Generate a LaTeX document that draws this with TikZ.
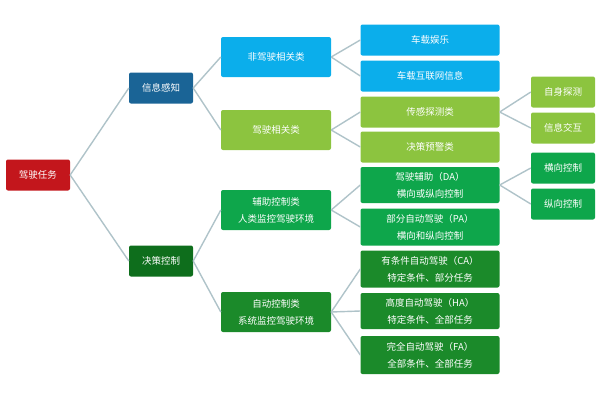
\documentclass[tikz,border=0pt]{standalone}
\usepackage{fontspec}
\setmainfont{Noto Sans CJK SC}
\definecolor{taskred}{HTML}{C3161C}
\definecolor{darkblue}{HTML}{1A6496}
\definecolor{darkgreen}{HTML}{0E6E1C}
\definecolor{skyblue}{HTML}{0BAEEB}
\definecolor{limegreen}{HTML}{8CC43F}
\definecolor{midgreen}{HTML}{0EA64B}
\definecolor{deepgreen}{HTML}{1B8A2A}
\definecolor{linkgray}{HTML}{AFC3C9}
\tikzset{
  box/.style={rectangle, rounded corners=2pt, text=white, align=center, inner sep=0pt,
    font=\fontsize{9.5}{17}\selectfont},
  link/.style={draw=linkgray, line width=1.4pt}
}
\begin{document}
\begin{tikzpicture}[x=1pt, y=-1pt]
\useasboundingbox (0,0) rectangle (600,400);
% level 0 and 1
\node[box, fill=taskred, minimum width=64pt, minimum height=31pt] (task) at (38,175) {驾驶任务};
\node[box, fill=darkblue, minimum width=64pt, minimum height=31pt] (sense) at (161,88) {信息感知};
\node[box, fill=darkgreen, minimum width=64pt, minimum height=31pt] (decide) at (161,261) {决策控制};
% level 2
\node[box, fill=skyblue, minimum width=110pt, minimum height=40pt] (nondrive) at (276,57) {非驾驶相关类};
\node[box, fill=limegreen, minimum width=110pt, minimum height=40pt] (drive) at (276,130) {驾驶相关类};
\node[box, fill=midgreen, minimum width=110pt, minimum height=40pt] (assist) at (276,210) {辅助控制类\\人类监控驾驶环境};
\node[box, fill=deepgreen, minimum width=110pt, minimum height=40pt] (auto) at (276,312) {自动控制类\\系统监控驾驶环境};
% level 3
\node[box, fill=skyblue, minimum width=139pt, minimum height=31pt] (fun) at (430,40) {车载娱乐};
\node[box, fill=skyblue, minimum width=139pt, minimum height=31pt] (web) at (430,76) {车载互联网信息};
\node[box, fill=limegreen, minimum width=139pt, minimum height=31pt] (probe) at (430,112) {传感探测类};
\node[box, fill=limegreen, minimum width=139pt, minimum height=31pt] (warn) at (430,147) {决策预警类};
\node[box, fill=midgreen, minimum width=139pt, minimum height=36pt] (da) at (430,185) {驾驶辅助（DA）\\横向或纵向控制};
\node[box, fill=midgreen, minimum width=139pt, minimum height=37pt] (pa) at (430,227) {部分自动驾驶（PA）\\横向和纵向控制};
\node[box, fill=deepgreen, minimum width=139pt, minimum height=37pt] (ca) at (430,269) {有条件自动驾驶（CA）\\特定条件、部分任务};
\node[box, fill=deepgreen, minimum width=139pt, minimum height=36pt] (ha) at (430,311) {高度自动驾驶（HA）\\特定条件、全部任务};
\node[box, fill=deepgreen, minimum width=139pt, minimum height=38pt] (fa) at (430,355) {完全自动驾驶（FA）\\全部条件、全部任务};
% level 4
\node[box, fill=limegreen, minimum width=64pt, minimum height=31pt] (self) at (563,92) {自身探测};
\node[box, fill=limegreen, minimum width=64pt, minimum height=31pt] (talk) at (563,128) {信息交互};
\node[box, fill=midgreen, minimum width=64pt, minimum height=31pt] (lat) at (563,168) {横向控制};
\node[box, fill=midgreen, minimum width=64pt, minimum height=31pt] (lon) at (563,204) {纵向控制};
% connectors
\foreach \a/\b in {task/sense, task/decide, sense/nondrive, sense/drive, decide/assist, decide/auto,
  nondrive/fun, nondrive/web, drive/probe, drive/warn, assist/da, assist/pa,
  auto/ca, auto/ha, auto/fa, probe/self, probe/talk, da/lat, da/lon}
  \draw[link] (\a.east) -- (\b.west);
\end{tikzpicture}
\end{document}
